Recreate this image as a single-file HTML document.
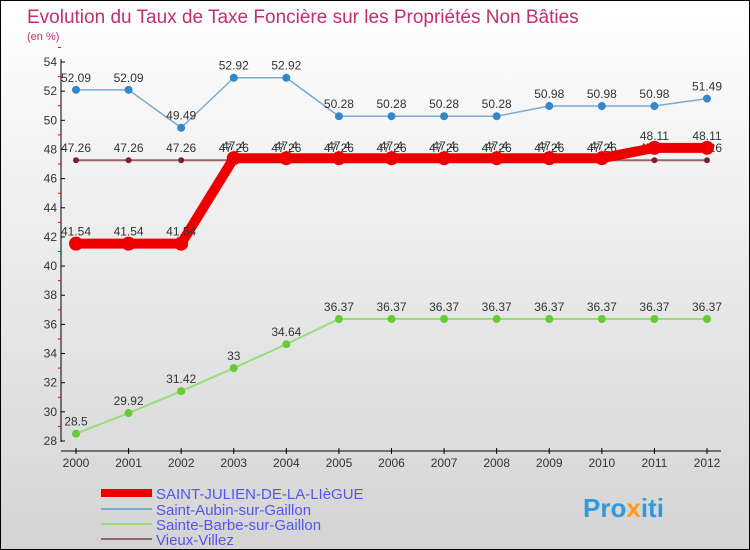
<!DOCTYPE html>
<html><head><meta charset="utf-8"><style>
body{margin:0}
#c{width:748px;height:548px;border:1px solid #000;background:linear-gradient(#fff,#d4d4d4);position:relative;font-family:"Liberation Sans",sans-serif;overflow:hidden}
</style></head><body>
<div id="c">
<svg id="s" width="748" height="548" xmlns="http://www.w3.org/2000/svg">
<text x="26" y="22" font-size="19" fill="#c0306a">Evolution du Taux de Taxe Foncière sur les Propriétés Non Bâties</text>
<text x="26" y="39" font-size="11" fill="#c0306a">(en %)</text>
<g id="g"></g>
<g font-size="15" fill="#5555ee">
<rect x="100" y="488" width="51" height="8" fill="#e00"/>
<text x="155" y="498">SAINT-JULIEN-DE-LA-LIèGUE</text>
<rect x="100" y="507" width="51" height="2" fill="#7aaacc"/>
<text x="155" y="514">Saint-Aubin-sur-Gaillon</text>
<rect x="100" y="522" width="51" height="2" fill="#99dd77"/>
<text x="155" y="529">Sainte-Barbe-sur-Gaillon</text>
<rect x="100" y="537" width="51" height="2" fill="#996666"/>
<text x="155" y="544">Vieux-Villez</text>
</g>
<text x="582" y="516" font-size="26" font-weight="bold" fill="#3399dd">Pro<tspan fill="#ff9922">x</tspan>iti</text>
</svg>
</div>
<script>
const years=[2000,2001,2002,2003,2004,2005,2006,2007,2008,2009,2010,2011,2012];
const yTicks=[28,30,32,34,36,38,40,42,44,46,48,50,52,54];
const stJulien=[41.54,41.54,41.54,47.4,47.4,47.4,47.4,47.4,47.4,47.4,47.4,48.11,48.11];
const stAubin=[52.09,52.09,49.49,52.92,52.92,50.28,50.28,50.28,50.28,50.98,50.98,50.98,51.49];
const steBarbe=[28.5,29.92,31.42,33,34.64,36.37,36.37,36.37,36.37,36.37,36.37,36.37,36.37];
const vieux=[47.26,47.26,47.26,47.26,47.26,47.26,47.26,47.26,47.26,47.26,47.26,47.26,47.26];
const NS="http://www.w3.org/2000/svg",g=document.getElementById('g');
const X=i=>75+i*(631/12), Y=v=>440-(v-28)*(379/26);
function mk(t,a,p){const e=document.createElementNS(NS,t);for(const k in a)e.setAttribute(k,a[k]);(p||g).appendChild(e);return e;}
let ax=mk('line',{x1:60,y1:58,x2:60,y2:441,stroke:'#000'});


let xa=mk('line',{x1:60,y1:450,x2:720,y2:450,stroke:'#000'});


yTicks.forEach(v=>{mk('line',{x1:60,y1:Y(v),x2:64,y2:Y(v),stroke:'#000'});
 mk('line',{x1:57,y1:Y(v+1),x2:60,y2:Y(v+1),stroke:'#e00'});
 let t=mk('text',{x:56,y:Y(v)+4,'font-size':12,'text-anchor':'end',fill:'#333'});t.textContent=v;
 
 });
years.forEach((y,i)=>{mk('line',{x1:X(i),y1:447,x2:X(i),y2:453,stroke:'#000'});
 let t=mk('text',{x:X(i),y:466,'font-size':12,'text-anchor':'middle',fill:'#333'});t.textContent=y;
 
 });
function series(d,col,w,dot,r,name){
 let p=mk('polyline',{points:d.map((v,i)=>X(i)+','+Y(v)).join(' '),fill:'none',stroke:col,'stroke-width':w,'stroke-linejoin':'round'});
 
 
 d.forEach((v,i)=>{let c=mk('circle',{cx:X(i),cy:Y(v),r:r,fill:dot});
  
  
  let t=mk('text',{x:X(i),y:Y(v)-8,'font-size':12,'text-anchor':'middle',fill:'#333'});t.textContent=v;
  
  });
}
series(vieux,'#996666',2,'#772233',3,'vieux-villez');
series(steBarbe,'#99dd77',2,'#66cc33',4,'sainte-barbe');
series(stAubin,'#7aaacc',1.5,'#3388cc',4,'saint-aubin');
series(stJulien,'#ee0000',10,'#ee0000',7,'saint-julien');
</script>
</body></html>
